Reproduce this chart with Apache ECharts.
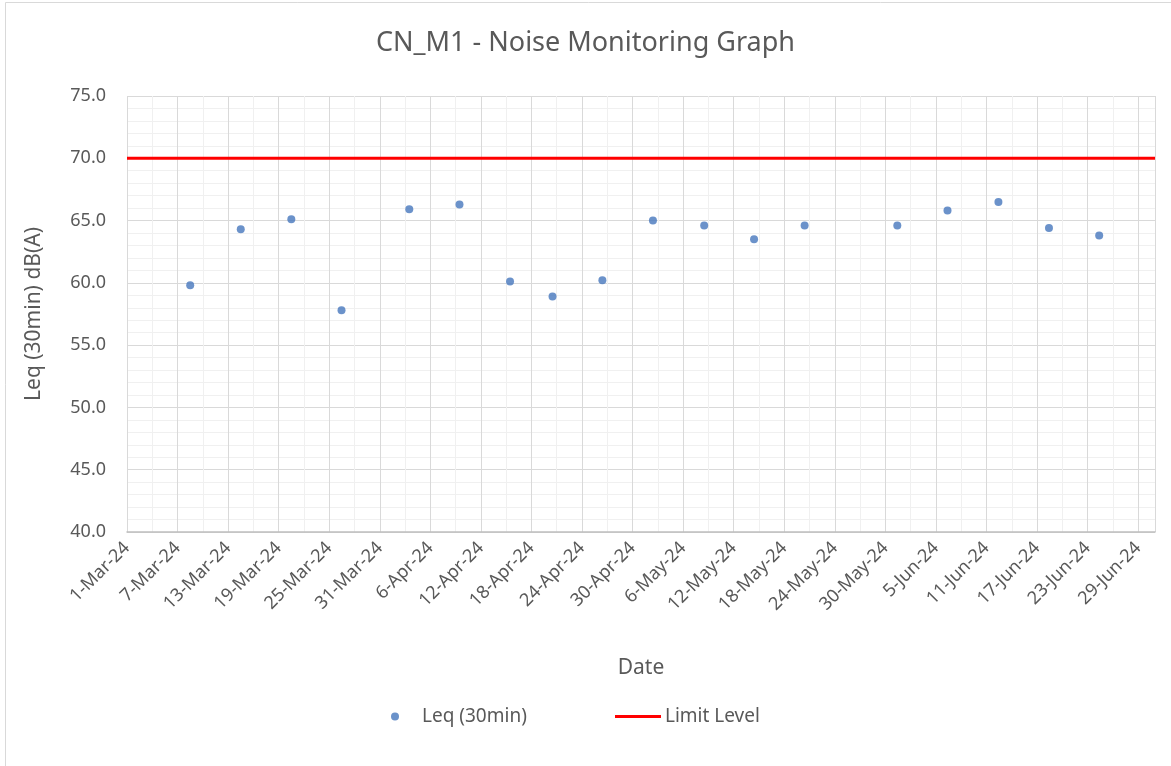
<!DOCTYPE html>
<html>
<head>
<meta charset="utf-8">
<script src="https://cdn.jsdelivr.net/npm/echarts@6/dist/echarts.min.js"></script>
<style>
html,body{margin:0;padding:0;background:#fff;}
#chart{width:1171px;height:766px;}
</style>
</head>
<body>
<div id="chart"></div>
<script>
// ---- data ----
const measureDates = [
  '2024-03-08 12:00','2024-03-14 12:00','2024-03-20 12:00','2024-03-26 11:00',
  '2024-04-03 12:00','2024-04-09 11:00','2024-04-15 11:00','2024-04-20 12:00',
  '2024-04-26 10:00','2024-05-02 10:00','2024-05-08 12:00','2024-05-14 10:00',
  '2024-05-20 10:00','2024-05-31 10:00','2024-06-06 09:00','2024-06-12 10:00',
  '2024-06-18 10:00','2024-06-24 09:00'
];
const leqValues = [59.8,64.3,65.1,57.8,65.9,66.3,60.1,58.9,60.2,65.0,64.6,63.5,64.6,64.6,65.8,66.5,64.4,63.8];
const limitDates = ['2024-03-01 00:00','2024-07-01 00:00'];
const limitValues = [70, 70];
const xTickLabels = ['1-Mar-24','7-Mar-24','13-Mar-24','19-Mar-24','25-Mar-24','31-Mar-24','6-Apr-24',
  '12-Apr-24','18-Apr-24','24-Apr-24','30-Apr-24','6-May-24','12-May-24','18-May-24','24-May-24',
  '30-May-24','5-Jun-24','11-Jun-24','17-Jun-24','23-Jun-24','29-Jun-24'];
const axisStart = '2024-03-01 00:00';
const axisEnd = '2024-07-01 00:00';

// ---- helpers ----
function toMs(s){
  const [d,t] = s.split(' ');
  const [Y,M,D] = d.split('-').map(Number);
  const [h,m] = t.split(':').map(Number);
  return Date.UTC(Y, M-1, D, h, m);
}
const DAY = 86400000;
const t0 = toMs(axisStart);
function toDay(s){ return (toMs(s) - t0) / DAY; }
const xMax = toDay(axisEnd);

const font = "'Noto Sans', 'Open Sans', sans-serif";
const txt = '#595959';

const chart = echarts.init(document.getElementById('chart'));
chart.setOption({
  animation: false,
  backgroundColor: '#ffffff',
  graphic: [{
    type: 'rect', silent: true, z: -10,
    shape: {x: 5.5, y: 2.5, width: 1200, height: 800},
    style: {fill: 'none', stroke: '#d9d9d9', lineWidth: 1}
  }],
  title: {
    text: 'CN_M1 - Noise Monitoring Graph',
    left: 'center', top: 25,
    textStyle: {fontFamily: font, fontSize: 27, fontWeight: 'normal', color: txt}
  },
  grid: {left: 127, right: 16, top: 96, bottom: 234, containLabel: false},
  legend: [{
    data: [{name: 'Leq (30min)', icon: 'circle'}],
    left: 391, top: 707, padding: 0,
    itemWidth: 8, itemHeight: 8, itemGap: 0,
    textStyle: {fontFamily: font, fontSize: 19, color: txt, padding: [0,0,0,18]}
  },{
    data: [{name: 'Limit Level', icon: 'rect'}],
    left: 615, top: 707, padding: 0,
    itemWidth: 46, itemHeight: 3,
    textStyle: {fontFamily: font, fontSize: 19, color: txt, padding: [0,0,0,-1]}
  }],
  xAxis: [{
    type: 'value', min: 0, max: xMax, interval: 6,
    name: 'Date', nameLocation: 'middle', nameGap: 126,
    nameTextStyle: {fontFamily: font, fontSize: 21, color: txt},
    axisLine: {show: true, onZero: false, lineStyle: {color: '#bfbfbf', width: 1.5}},
    axisTick: {show: false},
    axisLabel: {
      rotate: 45, margin: 13, fontFamily: font, fontSize: 18, color: txt,
      showMaxLabel: false,
      formatter: function(v){ const i = Math.round(v/6); return (Math.abs(v - i*6) < 1e-6 && xTickLabels[i]) ? xTickLabels[i] : ''; }
    },
    splitLine: {show: true, lineStyle: {color: '#d9d9d9', width: 1}},
    z: 1
  },{
    type: 'value', min: 0, max: xMax, interval: 3,
    axisLine: {show: false}, axisTick: {show: false}, axisLabel: {show: false},
    splitLine: {show: true, lineStyle: {color: '#f0f0f0', width: 1}},
    z: 0
  }],
  yAxis: {
    type: 'value', min: 40, max: 75, interval: 5,
    name: 'Leq (30min) dB(A)', nameLocation: 'middle', nameGap: 82,
    nameTextStyle: {fontFamily: font, fontSize: 21, color: txt},
    axisLine: {show: false}, axisTick: {show: false},
    axisLabel: {fontFamily: font, fontSize: 18, color: txt, margin: 21, formatter: v => v.toFixed(1)},
    splitLine: {show: true, lineStyle: {color: '#d9d9d9', width: 1}},
    minorTick: {show: false, splitNumber: 5},
    minorSplitLine: {show: true, lineStyle: {color: '#f0f0f0', width: 1}}
  },
  series: [{
    name: 'Leq (30min)', type: 'scatter', xAxisIndex: 0,
    symbol: 'circle', symbolSize: 8,
    itemStyle: {color: '#4677bd'},
    data: measureDates.map((d,i) => [toDay(d), leqValues[i]]),
    z: 3
  },{
    name: 'Limit Level', type: 'line', xAxisIndex: 0,
    showSymbol: false, symbol: 'none',
    lineStyle: {color: '#ff0000', width: 3},
    itemStyle: {color: '#ff0000'},
    data: limitDates.map((d,i) => [toDay(d), limitValues[i]]),
    z: 2
  }]
});
</script>
</body>
</html>
